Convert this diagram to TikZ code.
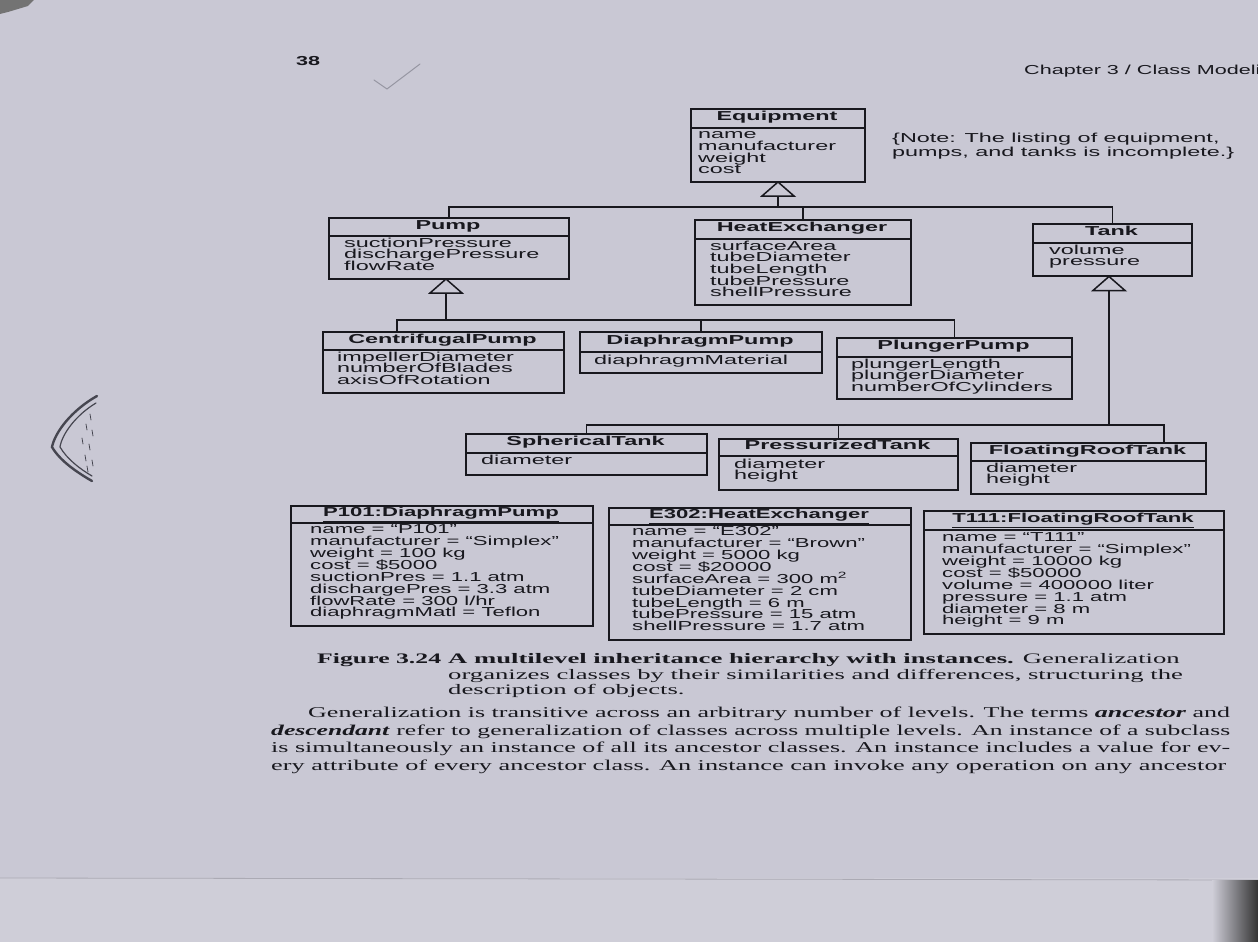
\documentclass[tikz,border=0pt]{standalone}
\usepackage{fontspec}
\usepackage{graphicx}
\newfontfamily\umlf[FakeStretch=1.8]{Liberation Sans}
\newfontfamily\instf[FakeStretch=1.7]{Liberation Sans}
\newfontfamily\hdrf[FakeStretch=1.66]{Liberation Sans}
\newfontfamily\serf[FakeStretch=1.84]{Liberation Serif}
\newfontfamily\bodyf[FakeStretch=1.6]{Liberation Serif}
\definecolor{paper}{RGB}{201,200,212}
\definecolor{paperb}{RGB}{207,206,216}
\definecolor{ink}{RGB}{24,24,30}
\definecolor{pencil}{RGB}{70,70,80}
\definecolor{lightpencil}{RGB}{150,150,162}
\tikzset{
  ln/.style={draw=ink, line width=1.5pt},
  clsbox/.style={draw=ink, line width=1.5pt, inner sep=0pt},
  clstitle/.style={font={\umlf\bfseries\fontsize{13}{12}\selectfont}, text=ink, inner sep=0pt, anchor=mid},
  clsattr/.style={font={\umlf\fontsize{13}{12}\selectfont}, text=ink, inner sep=0pt, anchor=mid west},
  insttitle/.style={font={\instf\bfseries\fontsize{13}{12}\selectfont}, text=ink, inner sep=0pt, anchor=mid},
  instattr/.style={font={\instf\fontsize{13}{12}\selectfont}, text=ink, inner sep=0pt, anchor=mid west},
  sanstext/.style={font={\umlf\fontsize{13}{12}\selectfont}, text=ink, inner sep=0pt, anchor=mid west},
  captext/.style={font={\serf\fontsize{14.5}{15}\selectfont}, text=ink, inner sep=0pt, anchor=mid west},
  bodytext/.style={font={\bodyf\fontsize{15}{17}\selectfont}, text=ink, inner sep=0pt, anchor=mid west},
  pencilst/.style={draw=pencil, line cap=round},
}
\def\lstep{11.7}
\def\lpad{16}
\def\ttlst{clstitle}
\def\attst{clsattr}
% #1 name, #2 left, #3 right, #4 top, #5 divider, #6 bottom, #7 title, #8 first attribute y, #9 attributes
\newcommand\umlcls[9]{%
  \node[clsbox, minimum width={#3pt-#2pt}, minimum height={#6pt-#4pt}, anchor=north west] (#1) at (#2,#4) {};
  \draw[ln] (#2,#5) -- (#3,#5);
  \node[\ttlst] (#1-t) at ({(#2+#3)/2},{(#4+#5)/2+0.5}) {#7};
  \foreach \a [count=\i from 0] in {#9}
    \node[\attst] (#1-a\i) at (#2+\lpad,#8+\i*\lstep) {\a};
}
\begin{document}
\begin{tikzpicture}[x=1pt,y=-1pt]
\useasboundingbox (0,0) rectangle (1258,942);
\clip (0,0) rectangle (1258,942);
% paper
\fill[paper] (0,0) rectangle (1258,942);
\fill[paperb] (0,878) rectangle (1258,942);
\draw[draw=paper!85!black, line width=0.8pt] (0,878) -- (1258,880);
\shade[left color=paperb, right color=black!80] (1212,880) rectangle (1258,942);
\fill[black!55] (0,0) -- (34,0) -- (28,6) -- (8,12) -- (0,14) -- cycle;

% page header
\node[sanstext, font={\hdrf\bfseries\fontsize{13}{13}\selectfont}] (pgnum) at (296,63) {38};
\node[sanstext, font={\hdrf\fontsize{13}{13}\selectfont}] (chap) at (1024,72) {Chapter 3 / Class Modeling};
\draw[draw=lightpencil, line width=1pt, line cap=round, line join=round] (374,80) -- (387,89) -- (420,64);

% left margin pencil mark
\draw[pencilst, line width=2.4pt] (97,396) .. controls (72,410) and (55,432) .. (52,447) .. controls (60,461) and (78,473) .. (92,481);
\draw[pencilst, line width=1.2pt] (96,403) .. controls (76,415) and (62,434) .. (60,447) .. controls (67,459) and (80,469) .. (92,476);
\foreach \x/\y in {90/414,86/424,92/430,82/438,89/444,85/455,92/460,87/466}
  \draw[pencilst, line width=0.8pt] (\x,\y) -- ++(1,6);

% classes
\def\lpad{8}
\umlcls{eq}{690}{864}{108}{128}{181}{Equipment}{136.5}{name,manufacturer,weight,cost}
\def\lpad{16}
\umlcls{pump}{328}{568}{217}{236}{278}{Pump}{245}{suctionPressure,dischargePressure,flowRate}
\umlcls{hx}{694}{910}{219}{239}{304}{HeatExchanger}{248}{surfaceArea,tubeDiameter,tubeLength,tubePressure,shellPressure}
\def\lpad{17}
\umlcls{tank}{1032}{1191}{223}{243}{275}{Tank}{252}{volume,pressure}
\def\lpad{15}
\umlcls{cp}{322}{563}{331}{350}{392}{CentrifugalPump}{359}{impellerDiameter,numberOfBlades,axisOfRotation}
\umlcls{dp}{579}{821}{331}{352}{372}{DiaphragmPump}{362}{diaphragmMaterial}
\umlcls{pp}{836}{1071}{337}{357}{398}{PlungerPump}{366}{plungerLength,plungerDiameter,numberOfCylinders}
\def\lpad{16}
\umlcls{st}{465}{706}{433}{453}{474}{SphericalTank}{462.5}{diameter}
\umlcls{pt}{718}{957}{438}{456}{489}{PressurizedTank}{466}{diameter,height}
\umlcls{ft}{970}{1205}{442}{461}{493}{FloatingRoofTank}{470}{diameter,height}

% note
\node[sanstext] (note1) at (892,140) {\{Note: The listing of equipment,};
\node[sanstext] (note2) at (892,154) {pumps, and tanks is incomplete.\}};

% generalization: Equipment
\coordinate (eqTa) at (778,182);
\coordinate (eqTb) at (778,196);
\coordinate (eqJ) at (778,207);
\draw[ln, fill=paper, line join=miter] (eqTa) -- ++(-16,14) -- ++(32,0) -- cycle;
\draw[ln] (eqTb) -- (eqJ);
\draw[ln] (pump.north) |- (eqJ);
\draw[ln] (tank.north) |- (eqJ);
\draw[ln] (hx.north) -- (hx.north |- eqJ);

% generalization: Pump
\coordinate (pumpTa) at (446,279);
\coordinate (pumpTb) at (446,293);
\coordinate (pumpJ) at (446,320);
\draw[ln, fill=paper, line join=miter] (pumpTa) -- ++(-16,14) -- ++(32,0) -- cycle;
\draw[ln] (pumpTb) -- (pumpJ);
\draw[ln] ([xshift=75pt]cp.north west) |- (pumpJ);
\draw[ln] (dp.north) |- (pumpJ);
\draw[ln] (pp.north) |- (pumpJ);

% generalization: Tank
\coordinate (tankTa) at (1109,276.5);
\coordinate (tankTb) at (1109,290.5);
\coordinate (tankJ) at (1109,425);
\draw[ln, fill=paper, line join=miter] (tankTa) -- ++(-16,14) -- ++(32,0) -- cycle;
\draw[ln] (tankTb) -- (tankJ);
\draw[ln] (st.north) |- (tankJ);
\draw[ln] (pt.north) |- (tankJ);
\draw[ln] ([xshift=194pt]ft.north west) |- (tankJ);

% instances
\def\lstep{11.9}
\def\ttlst{insttitle}
\def\attst{instattr}
\def\lpad{20}
\umlcls{p101}{290}{592}{505}{523}{625}{\underline{P101:DiaphragmPump}}{531.5}{{name = “P101”},{manufacturer = “Simplex”},{weight = 100 kg},{cost = \$5000},{suctionPres = 1.1 atm},{dischargePres = 3.3 atm},{flowRate = 300 l/hr},{diaphragmMatl = Teflon}}
\def\lpad{24}
\umlcls{e302}{608}{910}{507}{525}{639}{\underline{E302:HeatExchanger}}{533.5}{{name = “E302”},{manufacturer = “Brown”},{weight = 5000 kg},{cost = \$20000},{surfaceArea = 300 m\textsuperscript{2}},{tubeDiameter = 2 cm},{tubeLength = 6 m},{tubePressure = 15 atm},{shellPressure = 1.7 atm}}
\def\lpad{19}
\umlcls{t111}{923}{1223}{510}{530}{633}{\underline{T111:FloatingRoofTank}}{539.5}{{name = “T111”},{manufacturer = “Simplex”},{weight = 10000 kg},{cost = \$50000},{volume = 400000 liter},{pressure = 1.1 atm},{diameter = 8 m},{height = 9 m}}

% caption
\node[captext] (fig) at (317,661) {\resizebox{124pt}{\height}{\bfseries Figure 3.24}};
\node[captext] (cap1) at (448,661) {{\bfseries A multilevel inheritance hierarchy with instances.} Generalization};
\node[captext] (cap2) at (448,677) {organizes classes by their similarities and differences, structuring the};
\node[captext] (cap3) at (448,692) {description of objects.};

% body text
\node[bodytext] (b1) at (308,715) {\resizebox{922pt}{\height}{Generalization is transitive across an arbitrary number of levels. The terms \textbf{\textit{ancestor}} and}};
\node[bodytext] (b2) at (271,733) {\resizebox{959pt}{\height}{\textbf{\textit{descendant}} refer to generalization of classes across multiple levels. An instance of a subclass}};
\node[bodytext] (b3) at (271,750) {\resizebox{959pt}{\height}{is simultaneously an instance of all its ancestor classes. An instance includes a value for ev-}};
\node[bodytext] (b4) at (271,768) {\resizebox{955pt}{\height}{ery attribute of every ancestor class. An instance can invoke any operation on any ancestor}};
\end{tikzpicture}
\end{document}
